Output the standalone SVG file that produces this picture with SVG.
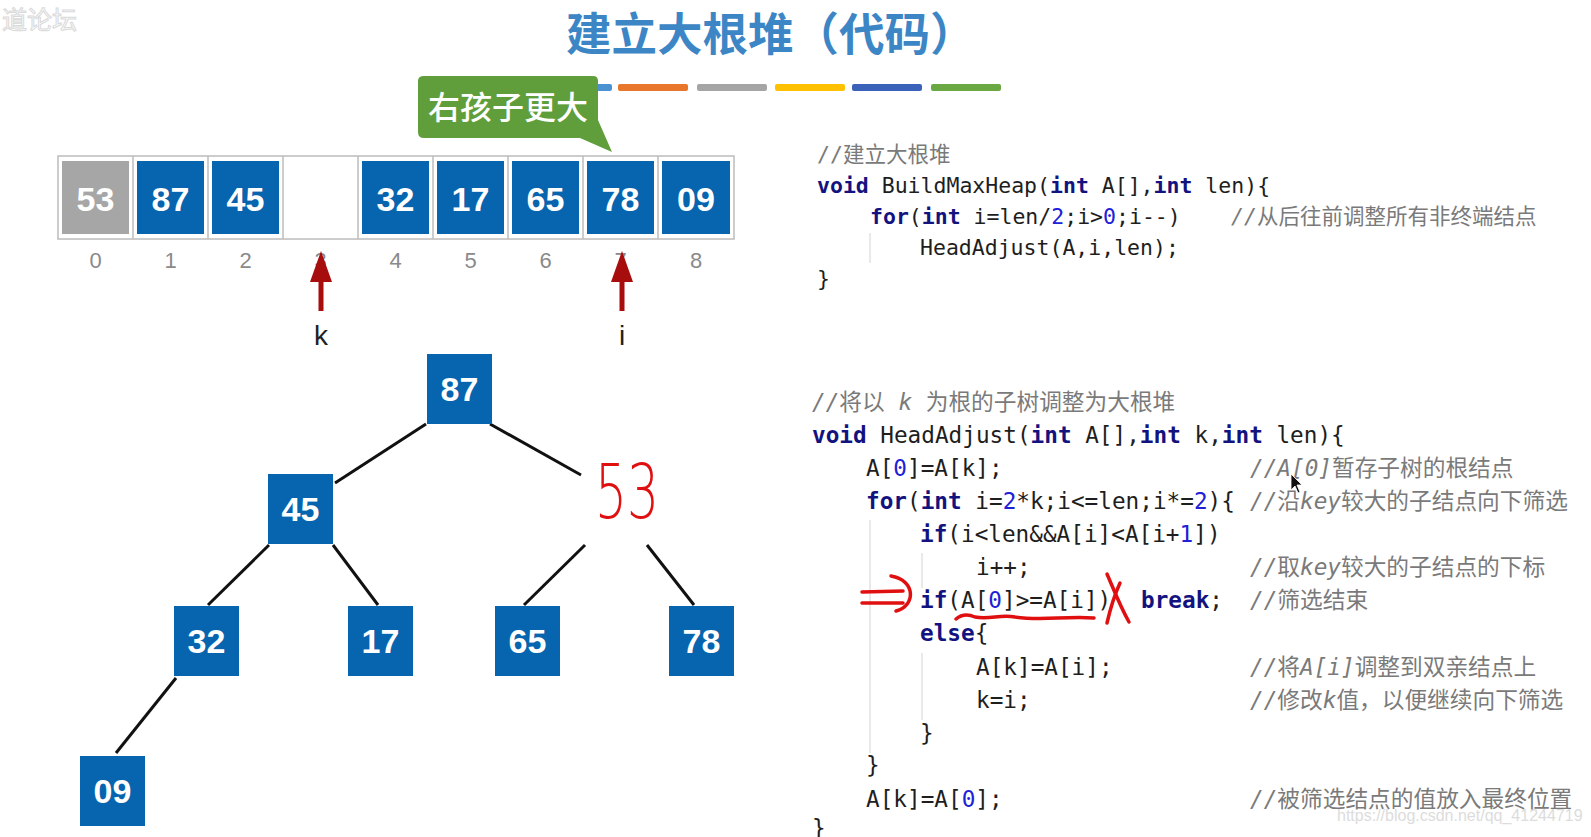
<svg xmlns="http://www.w3.org/2000/svg" width="1591" height="837" viewBox="0 0 1591 837">
<style>
.num{font-family:"Liberation Sans",Arial,sans-serif;font-weight:bold;font-size:34px;fill:#fff;text-anchor:middle}
.idx{font-family:"Liberation Sans",Arial,sans-serif;font-size:22px;fill:#8a8a8a;text-anchor:middle}
.blue{fill:#0665ae}
.edge{stroke:#111;stroke-width:3;fill:none}
.c1{font-family:"DejaVu Sans Mono","Noto Sans CJK SC",monospace;font-size:21.5px;fill:#1e1e1e}
.c2{font-family:"DejaVu Sans Mono","Noto Sans CJK SC",monospace;font-size:22.7px;fill:#1e1e1e}
.kw{fill:#131380;font-weight:bold}
.n{fill:#2020d8}
.cm{fill:#7a7a7a}
.it{font-style:italic}
.guide{stroke:#e2e2e2;stroke-width:1.5}
.red{stroke:#e01010;stroke-width:3.5;fill:none;stroke-linecap:round;stroke-linejoin:round}
.arrow{fill:#a80d0d}
</style>
<rect width="1591" height="837" fill="#fff"/>

<!-- watermarks -->
<text x="2" y="29" font-family="'Noto Sans CJK SC',sans-serif" font-size="25" fill="#fff" stroke="#d9d9d9" stroke-width="1">道论坛</text>
<text x="1337" y="821" font-family="'Liberation Sans',Arial,sans-serif" font-size="16" fill="#dcdcdc">https://blog.csdn.net/qq_41244719</text>

<!-- title -->
<text id="title" x="566" y="51" font-family="'Noto Sans CJK SC',sans-serif" font-weight="bold" font-size="45.5" fill="#3d86c6">建立大根堆（代码）</text>

<!-- colour bars -->
<g id="bars">
<rect x="542" y="84" width="70" height="7" rx="2" fill="#4b92d3"/>
<rect x="618" y="84" width="70" height="7" rx="2" fill="#e8762b"/>
<rect x="697" y="84" width="70" height="7" rx="2" fill="#a5a5a5"/>
<rect x="775" y="84" width="70" height="7" rx="2" fill="#ffc000"/>
<rect x="852" y="84" width="70" height="7" rx="2" fill="#3a62b8"/>
<rect x="931" y="84" width="70" height="7" rx="2" fill="#6aa843"/>
</g>

<!-- callout -->
<g id="callout">
<path d="M424,76 H593 Q598,76 598,81 V120 L612,152 L580,138 H424 Q418,138 418,132 V81 Q418,76 424,76 Z" fill="#5f9e3b"/>
<text x="508" y="119" text-anchor="middle" font-family="'Noto Sans CJK SC',sans-serif" font-size="32" font-weight="500" fill="#fff">右孩子更大</text>
</g>

<!-- array -->
<g id="array">
<rect x="58" y="156" width="676" height="83" fill="#fff" stroke="#bcbcbc" stroke-width="1.5"/>
<g stroke="#bcbcbc" stroke-width="1.5">
<line x1="133" y1="156" x2="133" y2="239"/><line x1="208" y1="156" x2="208" y2="239"/>
<line x1="283" y1="156" x2="283" y2="239"/><line x1="358" y1="156" x2="358" y2="239"/>
<line x1="433" y1="156" x2="433" y2="239"/><line x1="508" y1="156" x2="508" y2="239"/>
<line x1="583" y1="156" x2="583" y2="239"/><line x1="658" y1="156" x2="658" y2="239"/>
</g>
<g id="cell0"><rect x="62" y="161" width="67" height="73" fill="#a6a6a6"/><text class="num" x="95.5" y="211">53</text></g>
<g id="cell1"><rect class="blue" x="137" y="161" width="67" height="73"/><text class="num" x="170.5" y="211">87</text></g>
<g id="cell2"><rect class="blue" x="212" y="161" width="67" height="73"/><text class="num" x="245.5" y="211">45</text></g>
<g id="cell4"><rect class="blue" x="362" y="161" width="67" height="73"/><text class="num" x="395.5" y="211">32</text></g>
<g id="cell5"><rect class="blue" x="437" y="161" width="67" height="73"/><text class="num" x="470.5" y="211">17</text></g>
<g id="cell6"><rect class="blue" x="512" y="161" width="67" height="73"/><text class="num" x="545.5" y="211">65</text></g>
<g id="cell7"><rect class="blue" x="587" y="161" width="67" height="73"/><text class="num" x="620.5" y="211">78</text></g>
<g id="cell8"><rect class="blue" x="662" y="161" width="68" height="73"/><text class="num" x="696" y="211">09</text></g>
<g id="indices">
<text class="idx" x="95.5" y="268">0</text><text class="idx" x="170.5" y="268">1</text>
<text class="idx" x="245.5" y="268">2</text><text class="idx" x="320.5" y="268">3</text>
<text class="idx" x="395.5" y="268">4</text><text class="idx" x="470.5" y="268">5</text>
<text class="idx" x="545.5" y="268">6</text><text class="idx" x="620.5" y="268">7</text>
<text class="idx" x="696" y="268">8</text>
</g>
</g>

<!-- pointers -->
<g id="ptr-k">
<rect class="arrow" x="318.5" y="280" width="5" height="31"/>
<polygon class="arrow" points="310,282 332,282 321,251"/>
<text x="321" y="345" text-anchor="middle" font-family="'Liberation Sans',Arial,sans-serif" font-size="28" fill="#222">k</text>
</g>
<g id="ptr-i">
<rect class="arrow" x="619.5" y="280" width="5" height="31"/>
<polygon class="arrow" points="611,282 633,282 622,251"/>
<text x="622" y="345" text-anchor="middle" font-family="'Liberation Sans',Arial,sans-serif" font-size="28" fill="#222">i</text>
</g>

<!-- tree connectors -->
<g id="edges">
<line class="edge" x1="426" y1="424" x2="335" y2="483"/>
<line class="edge" x1="490" y1="424" x2="581" y2="475"/>
<line class="edge" x1="269" y1="545" x2="208" y2="605"/>
<line class="edge" x1="333" y1="545" x2="378" y2="605"/>
<line class="edge" x1="585" y1="545" x2="524" y2="605"/>
<line class="edge" x1="647" y1="545" x2="694" y2="605"/>
<line class="edge" x1="176" y1="678" x2="116" y2="753"/>
</g>

<!-- tree nodes -->
<g id="t87"><rect class="blue" x="427" y="354" width="65" height="70"/><text class="num" x="459.5" y="401">87</text></g>
<g id="t45"><rect class="blue" x="268" y="474" width="65" height="70"/><text class="num" x="300.5" y="521">45</text></g>
<g id="t53"><text transform="translate(627,518) scale(0.68,1)" text-anchor="middle" font-family="'DejaVu Sans',sans-serif" font-weight="300" font-size="74" fill="#e01010">53</text></g>
<g id="t32"><rect class="blue" x="174" y="606" width="65" height="70"/><text class="num" x="206.5" y="653">32</text></g>
<g id="t17"><rect class="blue" x="348" y="606" width="65" height="70"/><text class="num" x="380.5" y="653">17</text></g>
<g id="t65"><rect class="blue" x="495" y="606" width="65" height="70"/><text class="num" x="527.5" y="653">65</text></g>
<g id="t78"><rect class="blue" x="669" y="606" width="65" height="70"/><text class="num" x="701.5" y="653">78</text></g>
<g id="t09"><rect class="blue" x="80" y="756" width="65" height="70"/><text class="num" x="112.5" y="803">09</text></g>

<!-- code block 1 -->
<g id="code1">
<line class="guide" x1="870" y1="233" x2="870" y2="263"/>
<text class="c1 cm" x="817" y="162">//建立大根堆</text>
<text class="c1" x="817" y="193"><tspan class="kw">void</tspan> BuildMaxHeap(<tspan class="kw">int</tspan> A[],<tspan class="kw">int</tspan> len){</text>
<text class="c1" x="870" y="224"><tspan class="kw">for</tspan>(<tspan class="kw">int</tspan> i=len/<tspan class="n">2</tspan>;i&gt;<tspan class="n">0</tspan>;i--)</text>
<text class="c1 cm" x="1231" y="224"><tspan class="it">//</tspan>从后往前调整所有非终端结点</text>
<text class="c1" x="920" y="255">HeadAdjust(A,i,len);</text>
<text class="c1" x="817" y="286">}</text>
</g>

<!-- code block 2 -->
<g id="code2">
<line class="guide" x1="870" y1="520" x2="870" y2="753"/>
<line class="guide" x1="922" y1="553" x2="922" y2="588"/>
<line class="guide" x1="922" y1="653" x2="922" y2="720"/>
<text class="c2 cm" x="812" y="410"><tspan class="it">//</tspan>将以 <tspan class="it">k</tspan> 为根的子树调整为大根堆</text>
<text class="c2" x="812" y="443"><tspan class="kw">void</tspan> HeadAdjust(<tspan class="kw">int</tspan> A[],<tspan class="kw">int</tspan> k,<tspan class="kw">int</tspan> len){</text>
<text class="c2" x="866" y="476">A[<tspan class="n">0</tspan>]=A[k];</text>
<text class="c2 cm" x="1250" y="476"><tspan class="it">//A[0]</tspan>暂存子树的根结点</text>
<text class="c2" x="866" y="509"><tspan class="kw">for</tspan>(<tspan class="kw">int</tspan> i=<tspan class="n">2</tspan>*k;i&lt;=len;i*=<tspan class="n">2</tspan>){</text>
<text class="c2 cm" x="1250" y="509"><tspan class="it">//</tspan>沿<tspan class="it">key</tspan>较大的子结点向下筛选</text>
<text class="c2" x="920" y="542"><tspan class="kw">if</tspan>(i&lt;len&amp;&amp;A[i]&lt;A[i+<tspan class="n">1</tspan>])</text>
<text class="c2" x="976" y="575">i++;</text>
<text class="c2 cm" x="1250" y="575"><tspan class="it">//</tspan>取<tspan class="it">key</tspan>较大的子结点的下标</text>
<text class="c2" x="920" y="608"><tspan class="kw">if</tspan>(A[<tspan class="n">0</tspan>]&gt;=A[i])</text>
<text class="c2 kw" x="1141" y="608">break<tspan fill="#1e1e1e" font-weight="normal">;</tspan></text>
<text class="c2 cm" x="1250" y="608"><tspan class="it">//</tspan>筛选结束</text>
<text class="c2" x="920" y="641"><tspan class="kw">else</tspan>{</text>
<text class="c2" x="976" y="675">A[k]=A[i];</text>
<text class="c2 cm" x="1250" y="675"><tspan class="it">//</tspan>将<tspan class="it">A[i]</tspan>调整到双亲结点上</text>
<text class="c2" x="976" y="708">k=i;</text>
<text class="c2 cm" x="1250" y="708"><tspan class="it">//</tspan>修改<tspan class="it">k</tspan>值，以便继续向下筛选</text>
<text class="c2" x="920" y="741">}</text>
<text class="c2" x="866" y="773">}</text>
<text class="c2" x="866" y="807">A[k]=A[<tspan class="n">0</tspan>];</text>
<text class="c2 cm" x="1250" y="807"><tspan class="it">//</tspan>被筛选结点的值放入最终位置</text>
<text class="c2" x="812" y="836">}</text>
</g>

<!-- handwritten red marks -->
<g id="marks">
<path class="red" d="M862,592 L903,591 M862,603 L903,603"/>
<path class="red" d="M891,576 C916,580 916,606 896,611"/>
<path class="red" d="M956,619 C962,614 968,614 975,617 C990,620 1000,614 1015,617 C1040,621 1065,616 1094,618"/>
<path class="red" d="M1107,574 C1114,590 1120,606 1129,622"/>
<path class="red" d="M1120,583 C1114,596 1110,610 1107,623"/>
</g>

<!-- mouse cursor -->
<path d="M1291,474 L1291,490 L1295,486 L1298,493 L1300,492 L1297,485 L1302,485 Z" fill="#111" stroke="#fff" stroke-width="0.8"/>
</svg>
